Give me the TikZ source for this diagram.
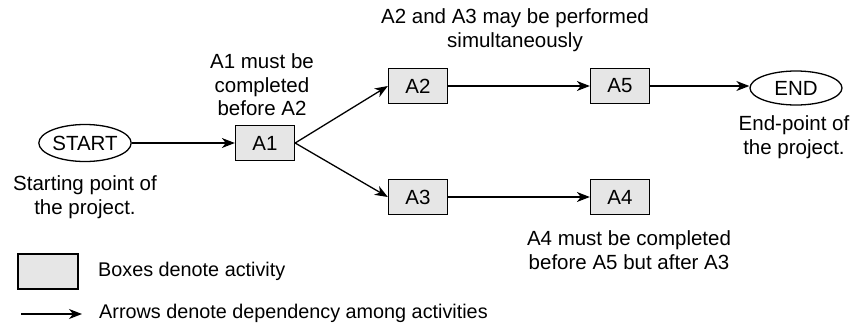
\documentclass[tikz,border=0pt]{standalone}
\usepackage{fontspec}
\setmainfont{Liberation Sans}
\usetikzlibrary{arrows.meta,shapes.geometric}
\definecolor{boxgray}{HTML}{E6E6E6}
\tikzset{
  act/.style={draw=black, fill=boxgray, line width=1.3pt, minimum width=59pt, minimum height=35pt, inner sep=0pt, font=\fontsize{20.5}{23}\selectfont},
  term/.style={draw=black, ellipse, line width=1.3pt, minimum width=90pt, minimum height=37pt, inner sep=0pt, font=\fontsize{20.5}{23}\selectfont},
  lbl/.style={align=center, inner sep=0pt, font=\fontsize{20.5}{23.5}\selectfont},
  leg/.style={anchor=west, inner sep=0pt, font=\fontsize{19.8}{23}\selectfont},
  dep/.style={line width=1.3pt, -{Stealth[length=13pt,width=10pt,inset=4pt]}}
}
\begin{document}
\begin{tikzpicture}[x=1pt,y=-1pt]
\useasboundingbox (0,0) rectangle (854,325);
\node[term] (start) at (85,143) {START};
\node[act] (a1) at (265,143) {A1};
\node[act] (a2) at (418,86) {A2};
\node[act] (a3) at (418,197) {A3};
\node[act] (a5) at (620,86) {A5};
\node[act] (a4) at (620,197) {A4};
\node[term, minimum width=92pt, minimum height=34pt] (end) at (796,88) {END};

\draw[dep] (start) -- (a1);
\draw[dep] (a1.east) -- (a2.west);
\draw[dep] (a1.east) -- (a3.west);
\draw[dep] (a2) -- (a5);
\draw[dep] (a3) -- (a4);
\draw[dep] (a5.east) -- (end.west |- a5.east);

\node[lbl] (t1) at (262,85) {A1 must be\\completed\\before A2};
\node[lbl] (t2) at (515,30) {A2 and A3 may be performed\\simultaneously};
\node[lbl] (t3) at (85,197) {Starting point of\\the project.};
\node[lbl] (t4) at (794,137) {End-point of\\the project.};
\node[lbl] (t5) at (629,250) {A4 must be completed\\before A5 but after A3};

\node[act, minimum width=60pt] (legbox) at (48,271.5) {};
\node[leg] (legt1) at (98,271) {Boxes denote activity};
\coordinate (la) at (21,314);
\coordinate (lb) at (82,314);
\draw[dep] (la) -- (lb);
\node[leg] (legt2) at (99,313) {Arrows denote dependency among activities};
\end{tikzpicture}
\end{document}
